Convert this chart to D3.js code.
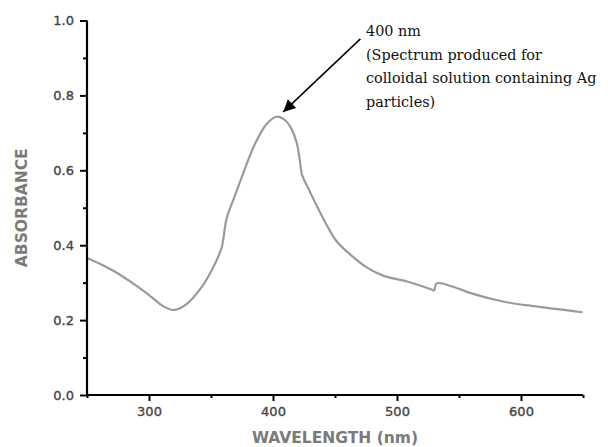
<!DOCTYPE html>
<html>
<head>
<meta charset="utf-8">
<script src="https://cdn.jsdelivr.net/npm/d3@7"></script>
<style>
  html, body { margin: 0; padding: 0; background: #fff; }
  svg { display: block; }
</style>
</head>
<body>
<svg id="chart" width="608" height="447"></svg>
<script>
// ---- data ----
const wavelength = [250, 262, 272.6, 288.8, 302.3, 311, 319.7, 329.2, 342.6, 353.4, 358.8, 360.5, 362.5,
  369, 376, 385.7, 395.2, 403, 410, 415, 419, 421.5, 423.5, 428, 435, 442, 451, 462.4, 475.9, 489.3, 508.2,
  528.4, 530, 532, 548.6, 559.4, 586.3, 613.2, 649.6];
const absorbance = [0.366, 0.348, 0.329, 0.294, 0.261, 0.238, 0.227, 0.240, 0.289, 0.352, 0.396, 0.430, 0.470,
  0.530, 0.592, 0.672, 0.725, 0.743, 0.733, 0.710, 0.675, 0.630, 0.587, 0.555, 0.507, 0.462, 0.412, 0.375, 0.340, 0.318, 0.303,
  0.281, 0.279, 0.298, 0.285, 0.272, 0.249, 0.236, 0.221];
const xTicks = [300, 400, 500, 600];
const xMinorTicks = [250, 350, 450, 550, 650];
const yTicks = [0.0, 0.2, 0.4, 0.6, 0.8, 1.0];
const yMinorTicks = [0.1, 0.3, 0.5, 0.7, 0.9];
const annotationLines = ["400 nm", "(Spectrum produced for", "colloidal solution containing Ag", "particles)"];
const arrowFrom = [470.5, 0.951];
const arrowTo = [408.3, 0.756];

// ---- layout ----
const svg = d3.select("#chart");
const x = d3.scaleLinear().domain([250, 650]).range([87, 583]);
const y = d3.scaleLinear().domain([0, 1]).range([395, 20.5]);

const tickFont = "'DejaVu Sans', sans-serif";

// curve
const line = d3.line().x((d, i) => x(wavelength[i])).y((d, i) => y(absorbance[i])).curve(d3.curveCatmullRom.alpha(0.5));
svg.append("path")
  .datum(absorbance)
  .attr("d", line)
  .attr("fill", "none")
  .attr("stroke", "#9a9a9a")
  .attr("stroke-width", 2.2)
  .attr("stroke-linejoin", "round");

// x axis
const gx = svg.append("g").attr("transform", `translate(0,${y(0)})`);
gx.call(d3.axisBottom(x).tickValues(xTicks).tickFormat(d3.format("d")).tickSize(6).tickPadding(6));
gx.append("g").call(d3.axisBottom(x).tickValues(xMinorTicks).tickSize(3).tickFormat(""))
  .select(".domain").remove();
// y axis
const gy = svg.append("g").attr("transform", `translate(${x(250)},0)`);
gy.call(d3.axisLeft(y).tickValues(yTicks).tickFormat(d3.format(".1f")).tickSize(7).tickPadding(6));
gy.append("g").call(d3.axisLeft(y).tickValues(yMinorTicks).tickSize(4).tickFormat(""))
  .select(".domain").remove();

[gx, gy].forEach(g => {
  g.selectAll(".domain").attr("stroke", "#000").attr("stroke-width", 2.2);
  g.selectAll(".tick line").attr("stroke", "#000").attr("stroke-width", 2);
  g.selectAll(".tick text").attr("fill", "#444").attr("font-family", tickFont).attr("font-size", 13)
    .attr("stroke", "#444").attr("stroke-width", 0.35);
});
gx.selectAll(".domain").attr("d", `M${x(250)},0H${x(650)}`);
gy.selectAll(".domain").attr("d", `M0,${y(1)}V${y(0)}`);

// axis titles
svg.append("text")
  .attr("x", (x(250) + x(650)) / 2).attr("y", 443)
  .attr("text-anchor", "middle")
  .attr("font-family", tickFont).attr("font-weight", "bold").attr("font-size", 15.5)
  .attr("fill", "#7a7a7a")
  .text("WAVELENGTH (nm)");
svg.append("text")
  .attr("transform", `translate(27,${(y(0) + y(1)) / 2}) rotate(-90)`)
  .attr("text-anchor", "middle")
  .attr("font-family", tickFont).attr("font-weight", "bold").attr("font-size", 15.5)
  .attr("fill", "#7a7a7a")
  .text("ABSORBANCE");

// annotation arrow
svg.append("line")
  .attr("x1", x(arrowFrom[0])).attr("y1", y(arrowFrom[1]))
  .attr("x2", x(arrowTo[0])).attr("y2", y(arrowTo[1]))
  .attr("stroke", "#000").attr("stroke-width", 1.5);
(function () {
  const x1 = x(arrowFrom[0]), y1 = y(arrowFrom[1]), x2 = x(arrowTo[0]), y2 = y(arrowTo[1]);
  const ang = Math.atan2(y2 - y1, x2 - x1);
  const L = 12, W = 6;
  const bx = x2 - L * Math.cos(ang), by = y2 - L * Math.sin(ang);
  const px = -Math.sin(ang) * W, py = Math.cos(ang) * W;
  svg.append("path")
    .attr("d", `M${x2},${y2}L${bx + px},${by + py}L${bx - px},${by - py}Z`)
    .attr("fill", "#000");
})();

const ann = svg.append("text")
  .attr("font-family", "'DejaVu Serif', serif")
  .attr("font-size", 14.4)
  .attr("fill", "#111");
annotationLines.forEach((t, i) => {
  ann.append("tspan").attr("x", 366).attr("y", 36 + i * 23.5).text(t);
});
</script>
</body>
</html>
